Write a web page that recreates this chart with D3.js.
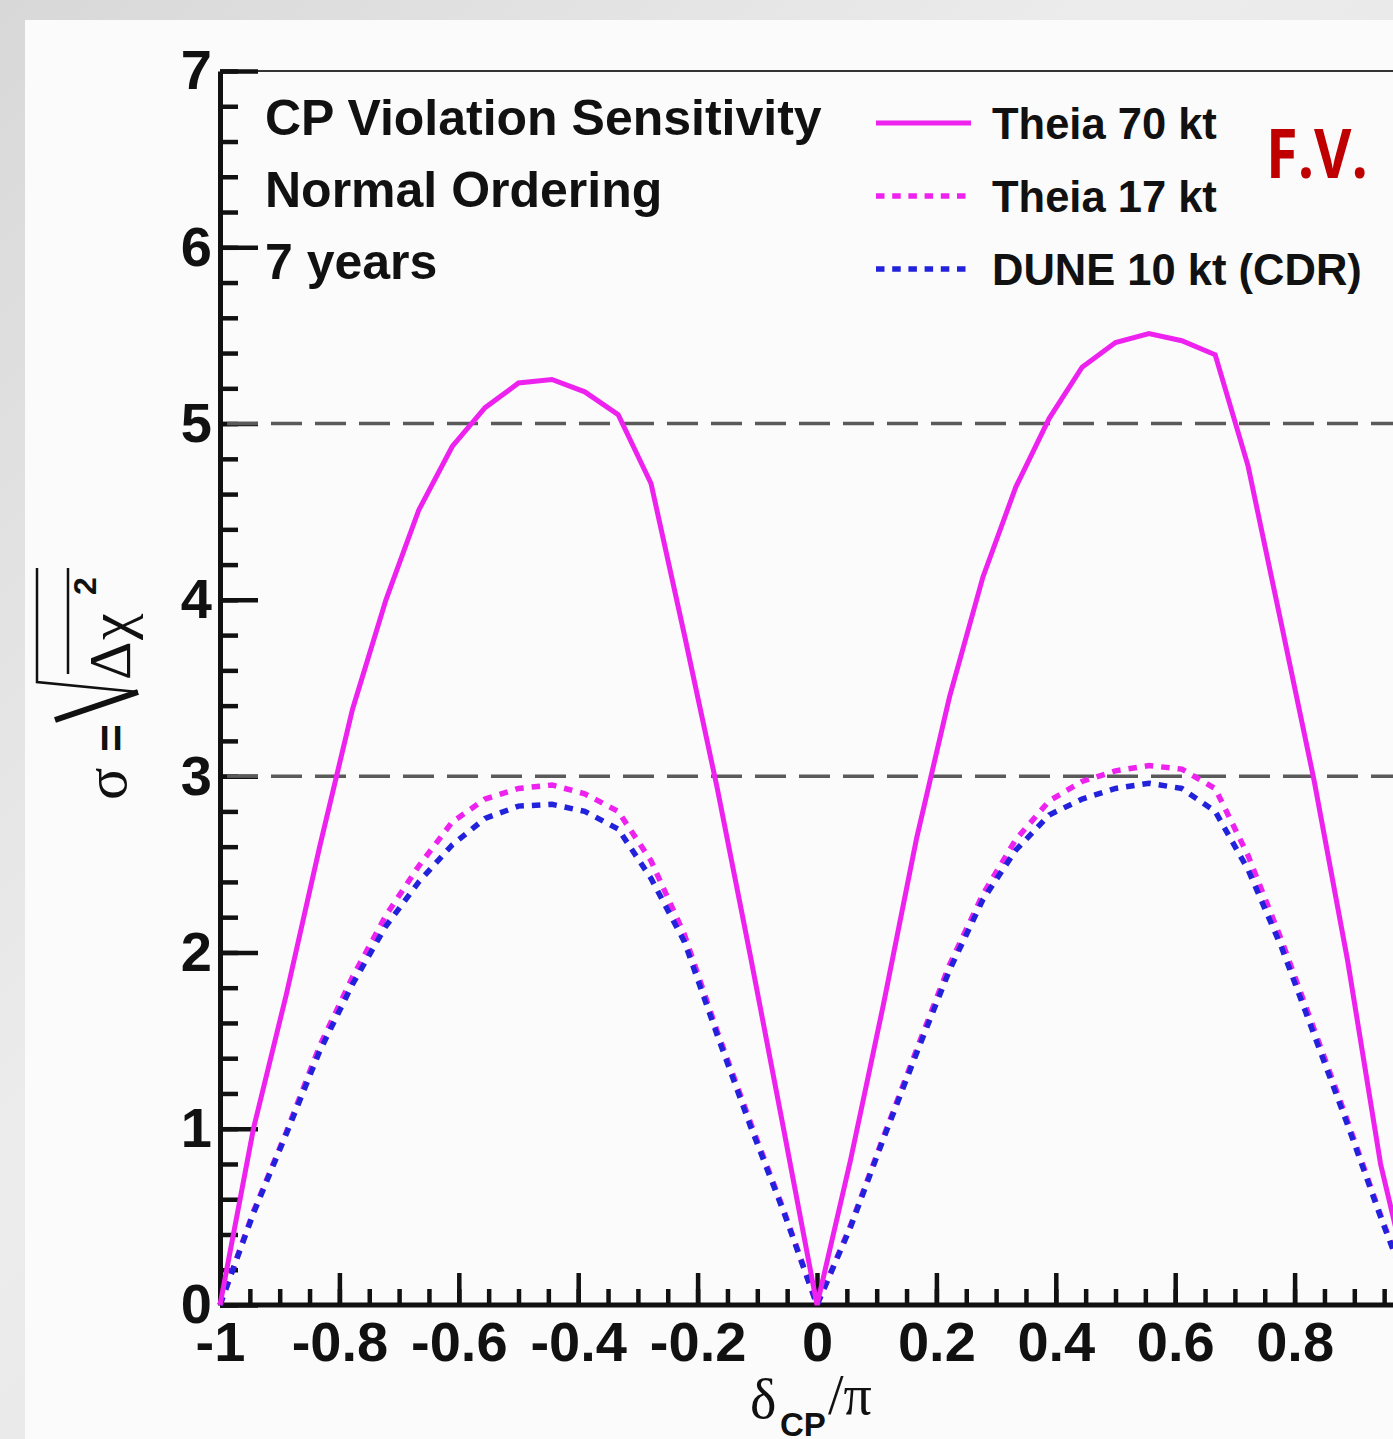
<!DOCTYPE html>
<meta charset="utf-8">
<style>
  body { margin: 0; background: #e4e4e4; }
  svg { display: block; }
  .axis .tick text { font-family: "Liberation Sans", Arial, sans-serif; font-weight: bold; font-size: 56px; fill: #111; }
  .axis line, .axis path { stroke: #111; }
</style>
<body>
<script src="https://d3js.org/d3.v7.min.js"></script>
<script>
	// delta_CP / pi sample points
	var deltaCP = [-1, -0.944, -0.889, -0.833, -0.778, -0.722, -0.667, -0.611, -0.556, -0.5,
		-0.444, -0.389, -0.333, -0.278, -0.222, -0.167, -0.111, -0.056, 0,
		0.056, 0.111, 0.167, 0.222, 0.278, 0.333, 0.389, 0.444, 0.5,
		0.556, 0.611, 0.667, 0.722, 0.778, 0.833, 0.889, 0.944, 1];

	// sigma = sqrt(delta chi^2)
	var theia70 = [0, 1.0, 1.76, 2.6, 3.38, 4.0, 4.51, 4.87, 5.09, 5.23,
		5.25, 5.18, 5.05, 4.66, 3.8, 2.93, 1.97, 1.0, 0,
		0.82, 1.7, 2.65, 3.45, 4.13, 4.64, 5.03, 5.32, 5.46,
		5.51, 5.47, 5.39, 4.76, 3.86, 2.97, 1.95, 0.8, 0];
	var theia17 = [0, 0.53, 0.98, 1.47, 1.86, 2.21, 2.49, 2.74, 2.87, 2.93,
		2.95, 2.9, 2.8, 2.52, 2.1, 1.55, 1.03, 0.54, 0,
		0.45, 0.95, 1.45, 1.93, 2.33, 2.64, 2.86, 2.97, 3.03,
		3.06, 3.04, 2.93, 2.55, 2.07, 1.56, 1.04, 0.51, 0];
	var dune10 = [0, 0.52, 0.97, 1.44, 1.82, 2.15, 2.4, 2.61, 2.76, 2.83,
		2.84, 2.8, 2.7, 2.42, 2.06, 1.53, 1.01, 0.53, 0,
		0.44, 0.94, 1.43, 1.9, 2.3, 2.58, 2.78, 2.87, 2.93,
		2.96, 2.93, 2.8, 2.47, 2.03, 1.53, 1.02, 0.5, 0];

	// the label at +1 falls past the right edge of the picture, so it is not drawn
	var xTickLabels = [-1, -0.8, -0.6, -0.4, -0.2, 0, 0.2, 0.4, 0.6, 0.8];
	var yTickLabels = [0, 1, 2, 3, 4, 5, 6, 7];
	var refLevels = [3, 5];
	var legendNames = ["Theia 70 kt", "Theia 17 kt", "DUNE 10 kt (CDR)"];
	var infoLines = ["CP Violation Sensitivity", "Normal Ordering", "7 years"];

	var W = 1393, H = 1439;
	var magenta = "#ee22ee", blue = "#2222dd";

	var x = d3.scaleLinear().domain([-1, 1]).range([220, 1414]);
	var y = d3.scaleLinear().domain([0, 7]).range([1305, 71]);

	var svg = d3.select("body").append("svg")
		.attr("width", W)
		.attr("height", H);

	// slide background + white panel
	var grad = svg.append("defs").append("linearGradient")
		.attr("id", "bg").attr("x1", 0).attr("y1", 0).attr("x2", 1).attr("y2", 1);
	grad.append("stop").attr("offset", "0%").attr("stop-color", "#d8d8d8");
	grad.append("stop").attr("offset", "40%").attr("stop-color", "#ececec");
	grad.append("stop").attr("offset", "100%").attr("stop-color", "#e2e2e2");
	svg.append("rect").attr("width", W).attr("height", H).attr("fill", "url(#bg)");
	svg.append("rect").attr("x", 25).attr("y", 20).attr("width", W - 25).attr("height", H - 20)
		.attr("fill", "#fbfbfb");

	// top frame
	svg.append("line")
		.attr("x1", x(-1)).attr("x2", x(1))
		.attr("y1", y(7)).attr("y2", y(7))
		.style("stroke", "#333").style("stroke-width", 2);

	// y axis: minor then major
	var yMinor = svg.append("g").attr("class", "axis")
		.attr("transform", "translate(" + x(-1) + ",0)")
		.call(d3.axisLeft(y).tickValues(d3.range(0, 7.01, 0.2)).tickSize(-18).tickFormat(""));
	yMinor.select(".domain").remove();
	yMinor.selectAll("line").style("stroke-width", 4.5);

	var yMajor = svg.append("g").attr("class", "axis")
		.attr("transform", "translate(" + x(-1) + ",0)")
		.call(d3.axisLeft(y).tickValues(yTickLabels).tickSize(-38).tickSizeOuter(0)
			.tickPadding(8).tickFormat(function(d) { return String(d); }));
	yMajor.selectAll("line").style("stroke-width", 4.5);
	yMajor.select(".domain").style("stroke-width", 5);

	// x axis
	var xMinor = svg.append("g").attr("class", "axis")
		.attr("transform", "translate(0," + y(0) + ")")
		.call(d3.axisBottom(x).tickValues(x.ticks(40)).tickSize(-16).tickFormat(""));
	xMinor.select(".domain").remove();
	xMinor.selectAll("line").style("stroke-width", 4.5);

	var xMajor = svg.append("g").attr("class", "axis")
		.attr("transform", "translate(0," + y(0) + ")")
		.call(d3.axisBottom(x).tickValues(xTickLabels).tickSize(-32).tickSizeOuter(0)
			.tickPadding(16).tickFormat(function(d) { return String(d); }));
	xMajor.selectAll("line").style("stroke-width", 4.5);
	xMajor.select(".domain").attr("d", "M" + x(-1) + ",0H" + x(1)).style("stroke-width", 5);

	// 3 and 5 sigma reference lines
	svg.selectAll(".ref")
		.data(refLevels)
	  .enter().append("line")
		.attr("class", "ref")
		.attr("x1", x(-1) + 7).attr("x2", x(1))
		.attr("y1", function(d) { return y(d); })
		.attr("y2", function(d) { return y(d); })
		.style("stroke", "#5a5a5a")
		.style("stroke-width", 3.5)
		.style("stroke-dasharray", "31,13");

	// curves
	var line = d3.line()
		.x(function(d, i) { return x(deltaCP[i]); })
		.y(function(d) { return y(d); });

	var series = [
		{ values: theia17, color: magenta, dash: "8.5,8" },
		{ values: dune10, color: blue, dash: "8.5,8" },
		{ values: theia70, color: magenta, dash: null }
	];
	series.forEach(function(s) {
		svg.append("path")
			.attr("d", line(s.values))
			.style("fill", "none")
			.style("stroke", s.color)
			.style("stroke-width", s.dash ? 5.5 : 5)
			.style("stroke-dasharray", s.dash);
	});

	// info text
	svg.selectAll(".info")
		.data(infoLines)
	  .enter().append("text")
		.attr("class", "info")
		.attr("x", 265)
		.attr("y", function(d, i) { return 135 + i * 72; })
		.style("font-family", "'Liberation Sans', Arial, sans-serif")
		.style("font-weight", "bold")
		.style("font-size", "50px")
		.style("fill", "#111")
		.text(function(d) { return d; });

	// legend
	var legendStyle = [
		{ color: magenta, dash: null, width: 5 },
		{ color: magenta, dash: "8.5,7.7", width: 5.5 },
		{ color: blue, dash: "8.5,7.7", width: 5.5 }
	];
	var leg = svg.selectAll(".leg")
		.data(legendNames)
	  .enter().append("g")
		.attr("class", "leg")
		.attr("transform", function(d, i) { return "translate(0," + (139 + i * 73) + ")"; });
	leg.append("line")
		.attr("x1", 876).attr("x2", 971)
		.attr("y1", -16).attr("y2", -16)
		.style("stroke", function(d, i) { return legendStyle[i].color; })
		.style("stroke-width", function(d, i) { return legendStyle[i].width; })
		.style("stroke-dasharray", function(d, i) { return legendStyle[i].dash; });
	leg.append("text")
		.attr("x", 992)
		.style("font-family", "'Liberation Sans', Arial, sans-serif")
		.style("font-weight", "bold")
		.style("font-size", "43.5px")
		.style("fill", "#111")
		.text(function(d) { return d; });

	// F.V. mark
	svg.append("text")
		.attr("x", 1266).attr("y", 178)
		.attr("textLength", 102)
		.attr("lengthAdjust", "spacingAndGlyphs")
		.style("font-family", "'Open Sans', sans-serif")
		.style("font-weight", "bold")
		.style("font-size", "68px")
		.style("fill", "#c00000")
		.text("F.V.");

	// x axis title: delta_CP / pi
	var xt = svg.append("g");
	xt.append("text").attr("x", 750).attr("y", 1418)
		.style("font-family", "'Liberation Serif', serif").style("font-size", "56px").style("fill", "#111")
		.text("δ");
	xt.append("text").attr("x", 780).attr("y", 1436)
		.style("font-family", "'Liberation Sans', sans-serif").style("font-weight", "bold")
		.style("font-size", "33px").style("fill", "#111")
		.text("CP");
	xt.append("text").attr("x", 828).attr("y", 1414)
		.style("font-family", "'Liberation Serif', serif").style("font-size", "56px").style("fill", "#111")
		.text("/π");

	// y axis title: sigma = sqrt(Delta chi^2), rotated
	var yt = svg.append("g").attr("transform", "translate(140,800) rotate(-90)");
	yt.append("text").attr("x", 0).attr("y", -14)
		.style("font-family", "'Liberation Serif', serif").style("font-size", "60px").style("fill", "#111")
		.text("σ");
	yt.append("text").attr("x", 48).attr("y", -12)
		.style("font-family", "'Liberation Sans', sans-serif").style("font-weight", "bold")
		.style("font-size", "48px").style("fill", "#111")
		.text("=");
	yt.append("path")
		.attr("d", "M80,-85L108,-2")
		.style("stroke", "#111").style("stroke-width", 6).style("fill", "none");
	yt.append("path")
		.attr("d", "M108,-2L118,-103L232,-103")
		.style("stroke", "#111").style("stroke-width", 2.5).style("fill", "none");
	yt.append("path")
		.attr("d", "M126,-72L232,-72")
		.style("stroke", "#111").style("stroke-width", 2.5).style("fill", "none");
	yt.append("text").attr("x", 120).attr("y", -10)
		.style("font-family", "'Liberation Serif', serif").style("font-size", "60px").style("fill", "#111")
		.text("Δ");
	yt.append("text").attr("x", 160).attr("y", -10)
		.style("font-family", "'Liberation Serif', serif").style("font-size", "60px").style("fill", "#111")
		.text("χ");
	yt.append("text").attr("x", 205).attr("y", -44)
		.style("font-family", "'Liberation Sans', sans-serif").style("font-weight", "bold")
		.style("font-size", "32px").style("fill", "#111")
		.text("2");
</script>
</body>
